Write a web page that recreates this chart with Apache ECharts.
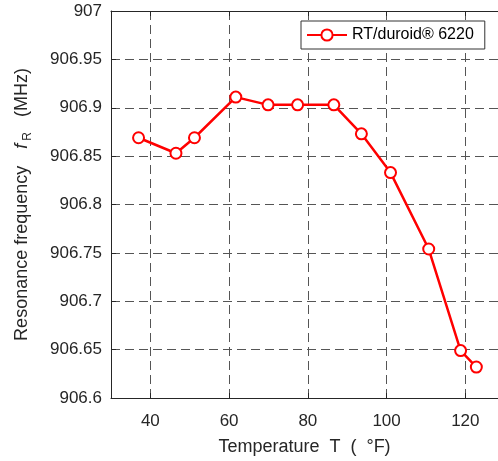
<!DOCTYPE html>
<html>
<head>
<meta charset="utf-8">
<script src="https://cdn.jsdelivr.net/npm/echarts@6/dist/echarts.min.js"></script>
<style>html,body{margin:0;padding:0;background:#fff;}#c{width:498px;height:461px;}</style>
</head>
<body>
<div id="c"></div>
<script>
const temperatures = [37.0, 46.5, 51.2, 61.7, 69.9, 77.4, 86.6, 93.6, 101.0, 110.7, 118.8, 122.8];
const frequencies = [906.869, 906.853, 906.869, 906.911, 906.903, 906.903, 906.903, 906.873, 906.833, 906.754, 906.649, 906.632];
const xTicks = [40, 60, 80, 100, 120];
const seriesName = 'RT/duroid® 6220';

const FONT = 'Liberation Sans, Arial, Helvetica, sans-serif';
const AX = '#262626';
const gridLine = { show: true, lineStyle: { color: '#555', width: 1, type: [9, 5] } };

const chart = echarts.init(document.getElementById('c'), null, { renderer: 'canvas' });
chart.setOption({
  animation: false,
  backgroundColor: '#fff',
  grid: { left: 111, top: 11, right: 0, bottom: 63, containLabel: false },
  legend: {
    left: 301, top: 21,
    padding: [6, 11, 6, 5],
    itemWidth: 40, itemHeight: 14, itemGap: 5,
    borderColor: '#333', borderWidth: 1, backgroundColor: '#fff',
    textStyle: { fontFamily: FONT, fontSize: 16, color: '#000' },
    data: [seriesName]
  },
  xAxis: [{
    type: 'value', min: 30, max: 128.3, position: 'bottom',
    name: 'Temperature  T  (  °F)', nameLocation: 'middle', nameGap: 40,
    nameTextStyle: { fontFamily: FONT, fontSize: 18, color: AX },
    axisLine: { show: true, lineStyle: { color: AX, width: 1 } },
    axisTick: { show: true, inside: true, length: 5, customValues: xTicks, lineStyle: { color: AX } },
    axisLabel: { customValues: xTicks, fontFamily: FONT, fontSize: 17, color: AX, margin: 15 },
    splitLine: gridLine
  }, {
    type: 'value', min: 30, max: 128.3, position: 'top',
    axisLine: { show: true, onZero: false, lineStyle: { color: AX, width: 1 } },
    axisTick: { show: true, inside: true, length: 5, customValues: xTicks, lineStyle: { color: AX } },
    axisLabel: { show: false },
    splitLine: { show: false }
  }],
  yAxis: {
    type: 'value', min: 906.6, max: 907, interval: 0.05,
    name: '{a|Resonance frequency}{f|f}{s|R}{a|(MHz)}',
    nameLocation: 'middle', nameGap: 77, nameRotate: 90,
    nameTextStyle: {
      fontFamily: FONT, fontSize: 18, color: AX,
      rich: {
        a: { fontFamily: FONT, fontSize: 18, color: AX, lineHeight: 24, verticalAlign: 'middle' },
        f: { fontFamily: FONT, fontSize: 18, fontStyle: 'italic', color: AX, lineHeight: 24, verticalAlign: 'middle', padding: [0, 3, 0, 17] },
        s: { fontFamily: FONT, fontSize: 12, color: AX, lineHeight: 12, verticalAlign: 'bottom', padding: [0, 15, 0, 0] }
      }
    },
    axisLine: { show: true, lineStyle: { color: AX, width: 1 } },
    axisTick: { show: true, inside: true, length: 5, lineStyle: { color: AX } },
    axisLabel: {
      fontFamily: FONT, fontSize: 17, color: AX, margin: 9,
      formatter: v => String(parseFloat(v.toFixed(2)))
    },
    splitLine: gridLine
  },
  series: [{
    name: seriesName, type: 'line',
    data: temperatures.map((t, i) => [t, frequencies[i]]),
    lineStyle: { color: '#ff0000', width: 2.5 },
    itemStyle: { color: '#ff0000', borderColor: '#ff0000', borderWidth: 2.4 },
    symbol: 'emptyCircle', symbolSize: 11, showSymbol: true
  }]
});
</script>
</body>
</html>
